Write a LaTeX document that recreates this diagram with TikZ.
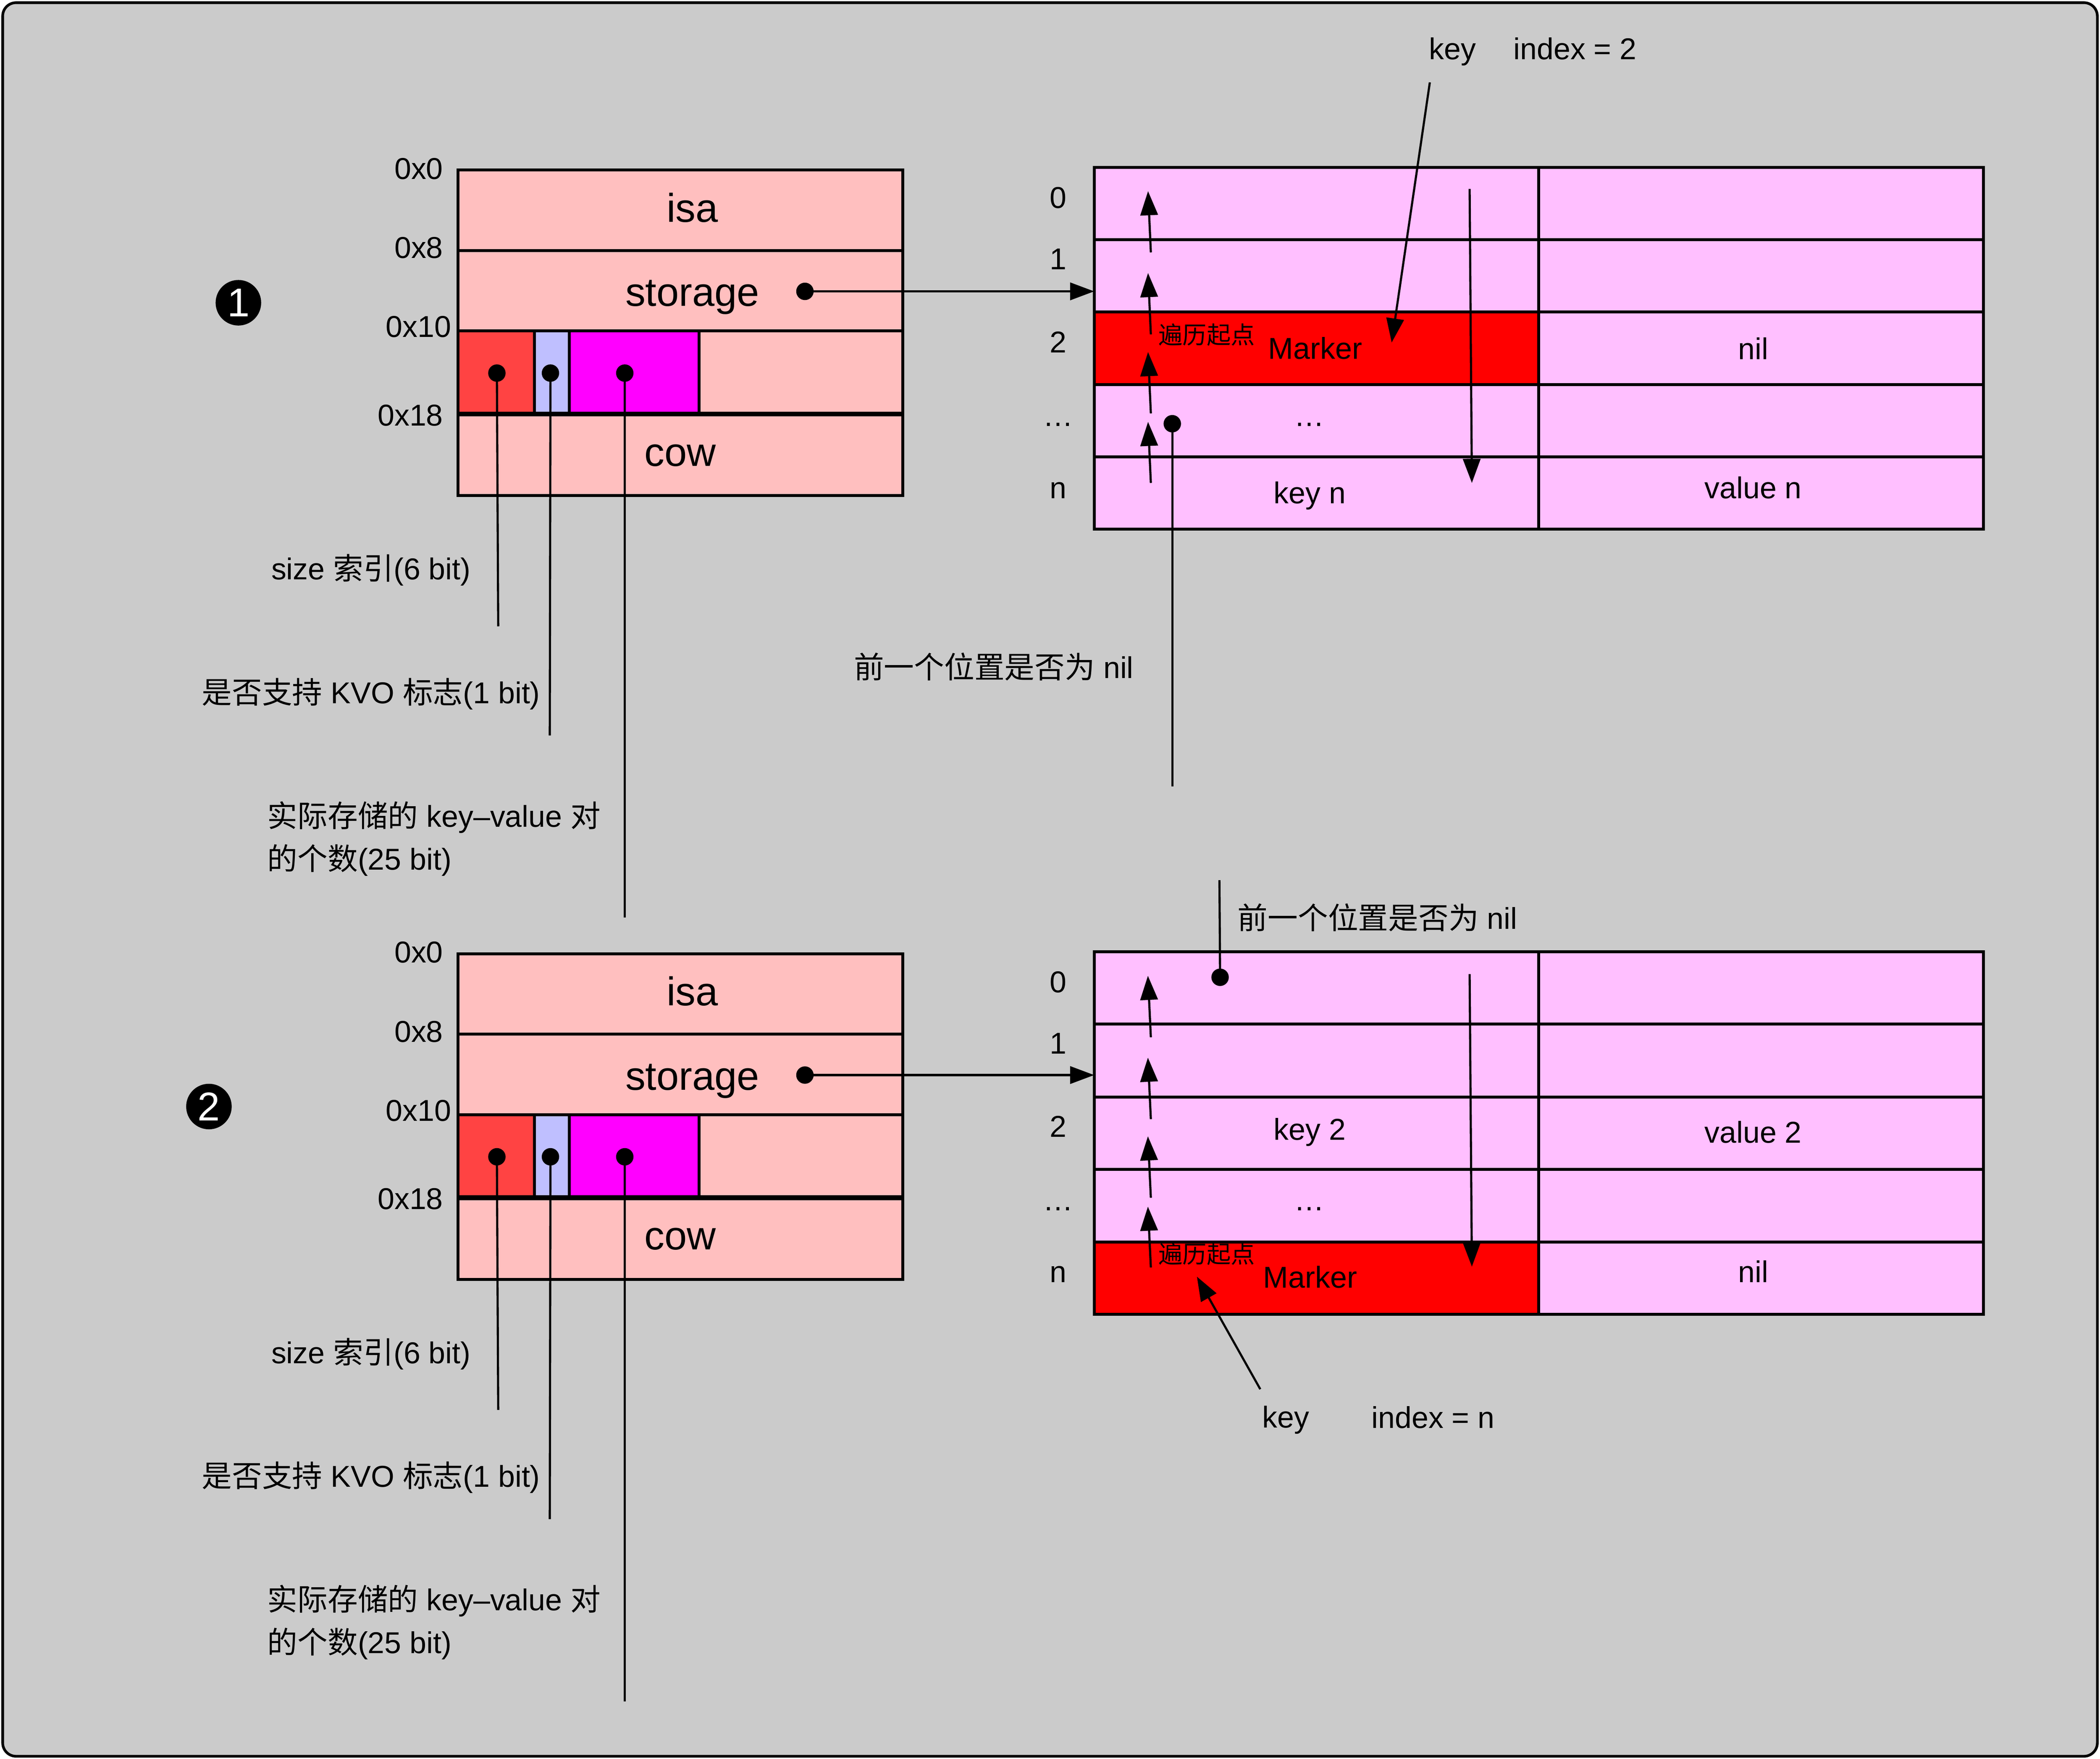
\documentclass[tikz,border=0pt]{standalone}
\usepackage{fontspec}
\setmainfont{Liberation Sans}
\newfontfamily\cjk{Noto Sans CJK SC}
\usetikzlibrary{arrows.meta}
\definecolor{bgc}{HTML}{CBCBCB}
\definecolor{spink}{HTML}{FFBFBF}
\definecolor{cred}{HTML}{FF4343}
\definecolor{clav}{HTML}{BFBFFF}
\definecolor{cmag}{HTML}{FF00FF}
\definecolor{tpink}{HTML}{FFBFFF}
\definecolor{mred}{HTML}{FF0000}
\newcommand\zh[1]{{\cjk #1}}
\tikzset{
 cell/.style={line width=2.2pt},
 lbl/.style={inner sep=0pt, font=\fontsize{22.5}{32}\selectfont},
 big/.style={inner sep=0pt, font=\fontsize{30}{36}\selectfont},
 small/.style={inner sep=0pt, font=\fontsize{18}{22}\selectfont},
 dot/.style={circle, fill=black, inner sep=0pt, minimum size=13pt},
 conn/.style={line width=1.6pt},
 arr/.style={line width=1.6pt, -{Triangle[length=18pt,width=13pt]}},
 numc/.style={circle, fill=black, text=white, inner sep=0pt, minimum size=34pt, font=\fontsize{30}{30}\selectfont},
}
\newcommand\memstruct[1]{%
 \fill[spink] (342,127) rectangle (674,370);
 \fill[cred] (342,247) rectangle (399,309);
 \fill[clav] (399,247) rectangle (425,309);
 \fill[cmag] (425,247) rectangle (522,309);
 \draw[cell] (342,127) rectangle (674,370);
 \draw[cell] (342,187) -- (674,187) (342,247) -- (674,247);
 \draw[cell] (399,247) -- (399,309) (425,247) -- (425,309) (522,247) -- (522,309);
 \draw[line width=3.6pt] (342,309) -- (674,309);
 \node[big] (isa#1) at (517,155) {isa};
 \node[big] (storage#1) at (517,222) {storage};
 \node[big] (cow#1) at (508,340) {cow};
 \node[lbl, anchor=east] (ox0#1) at (331,126) {0x0};
 \node[lbl, anchor=east] (ox8#1) at (331,185) {0x8};
 \node[lbl, anchor=east] (ox10#1) at (337,244) {0x10};
 \node[lbl, anchor=east] (ox18#1) at (331,310) {0x18};
 \node[dot] (sd#1) at (601,217.5) {};
 \node[dot] (bd1#1) at (371,278.5) {};
 \node[dot] (bd2#1) at (411,278.5) {};
 \node[dot] (bd3#1) at (466.5,278.5) {};
 \coordinate (be1#1) at (372,467.5);
 \coordinate (be2#1) at (410.5,549);
 \coordinate (be3#1) at (466.5,685);
 \draw[conn] (bd1#1.center) -- (be1#1);
 \draw[conn] (bd2#1.center) -- (be2#1);
 \draw[conn] (bd3#1.center) -- (be3#1);
 \node[lbl] (sz#1) at (277,425.5) {size \zh{索引}(6 bit)};
 \node[lbl] (kvo#1) at (277,518) {\zh{是否支持} KVO \zh{标志}(1 bit)};
 \node[lbl, anchor=west, align=left] (cnt#1) at (199.5,626) {\zh{实际存储的} key–value \zh{对}\\\zh{的个数}(25 bit)};
}
\begin{document}
\begin{tikzpicture}[x=1pt,y=-1pt]
\useasboundingbox (0,0) rectangle (1568,1313);
\draw[line width=2pt, fill=bgc, rounded corners=10pt] (2,2) rectangle (1566,1311);

\memstruct{a}
\begin{scope}[yshift=-585pt]\memstruct{b}\end{scope}

\node[numc] (num1) at (178,226) {1};
\node[numc] (num2) at (156,826) {2};

% ---------- table 1 ----------
\fill[tpink] (817,125) rectangle (1481,395);
\fill[mred] (817,233) rectangle (1149,287);
\draw[cell] (817,125) rectangle (1481,395);
\draw[cell] (1149,125) -- (1149,395);
\draw[cell] (817,179) -- (1481,179) (817,233) -- (1481,233) (817,287) -- (1481,287) (817,341) -- (1481,341);

\node[lbl] (ta0) at (790,147.5) {0};
\node[lbl] (ta1) at (790,193.5) {1};
\node[lbl] (ta2) at (790,255.5) {2};
\node[lbl, anchor=base] (ta3) at (790,318) {…};
\node[lbl] (ta4) at (790,366) {n};

\node[small] (sta) at (901,250) {\zh{遍历起点}};
\node[lbl] (mka) at (982,260) {Marker};
\node[lbl] (nila) at (1309,260) {nil};
\node[lbl, anchor=base] (ela) at (977.5,318) {…};
\node[lbl] (kna) at (978,370) {key n};
\node[lbl] (vna) at (1309,364) {value n};

\coordinate (tina) at (817,217.5);
\draw[arr] (sda.center) -- (tina);

\coordinate (ua1s) at (859.3,188.4); \coordinate (ua1e) at (857.2,142.7);
\coordinate (ua2s) at (859.3,249.6); \coordinate (ua2e) at (857.2,203.8);
\coordinate (ua3s) at (859.3,308.6); \coordinate (ua3e) at (857.2,262.8);
\coordinate (ua4s) at (859.3,360.5); \coordinate (ua4e) at (857.2,314.9);
\draw[arr] (ua1s) -- (ua1e);
\draw[arr] (ua2s) -- (ua2e);
\draw[arr] (ua3s) -- (ua3e);
\draw[arr] (ua4s) -- (ua4e);
\coordinate (das) at (1097.3,141); \coordinate (dae) at (1099,360.5);
\draw[arr] (das) -- (dae);

\node[lbl] (keya) at (1084.5,38.7) {key};
\node[lbl] (idxa) at (1176,36.3) {index = 2};
\coordinate (kas) at (1067.6,61.5); \coordinate (kae) at (1039.1,255.7);
\draw[arr] (kas) -- (kae);

\node[dot] (pda) at (875.3,316.3) {};
\coordinate (pea) at (875.3,587);
\draw[conn] (pda.center) -- (pea);
\node[lbl] (pna) at (742,497.8) {\zh{前一个位置是否为} nil};

% ---------- table 2 ----------
\fill[tpink] (817,710.5) rectangle (1481,981);
\fill[mred] (817,927) rectangle (1149,981);
\draw[cell] (817,710.5) rectangle (1481,981);
\draw[cell] (1149,710.5) -- (1149,981);
\draw[cell] (817,764.5) -- (1481,764.5) (817,819) -- (1481,819) (817,873) -- (1481,873) (817,927) -- (1481,927);

\node[lbl] (tb0) at (790,733) {0};
\node[lbl] (tb1) at (790,779) {1};
\node[lbl] (tb2) at (790,841) {2};
\node[lbl, anchor=base] (tb3) at (790,903.6) {…};
\node[lbl] (tb4) at (790,951.3) {n};

\node[lbl] (k2b) at (978,845) {key 2};
\node[lbl] (v2b) at (1309,845) {value 2};
\node[lbl, anchor=base] (elb) at (977.5,903.6) {…};
\node[small] (stb) at (901,936.2) {\zh{遍历起点}};
\node[lbl] (mkb) at (978.2,953.3) {Marker};
\node[lbl] (nilb) at (1309,949) {nil};

\coordinate (tinb) at (817,802.5);
\draw[arr] (sdb.center) -- (tinb);

\coordinate (ub1s) at (859.3,774.3); \coordinate (ub1e) at (857.1,728.4);
\coordinate (ub2s) at (859.3,835.4); \coordinate (ub2e) at (857.1,789.5);
\coordinate (ub3s) at (859.3,894.1); \coordinate (ub3e) at (857.1,848.2);
\coordinate (ub4s) at (859.3,946.1); \coordinate (ub4e) at (857.1,900.7);
\draw[arr] (ub1s) -- (ub1e);
\draw[arr] (ub2s) -- (ub2e);
\draw[arr] (ub3s) -- (ub3e);
\draw[arr] (ub4s) -- (ub4e);
\coordinate (dbs) at (1097.3,727.1); \coordinate (dbe) at (1099,945.5);
\draw[arr] (dbs) -- (dbe);

\node[lbl] (keyb) at (960,1060) {key};
\node[lbl] (idxb) at (1070,1058) {index = n};
\coordinate (kbs) at (941,1037); \coordinate (kbe) at (893.7,953);
\draw[arr] (kbs) -- (kbe);

\node[dot] (pdb) at (911,729.5) {};
\coordinate (peb) at (910.5,657);
\draw[conn] (pdb.center) -- (peb);
\node[lbl] (pnb) at (1028.5,685) {\zh{前一个位置是否为} nil};
\end{tikzpicture}
\end{document}
